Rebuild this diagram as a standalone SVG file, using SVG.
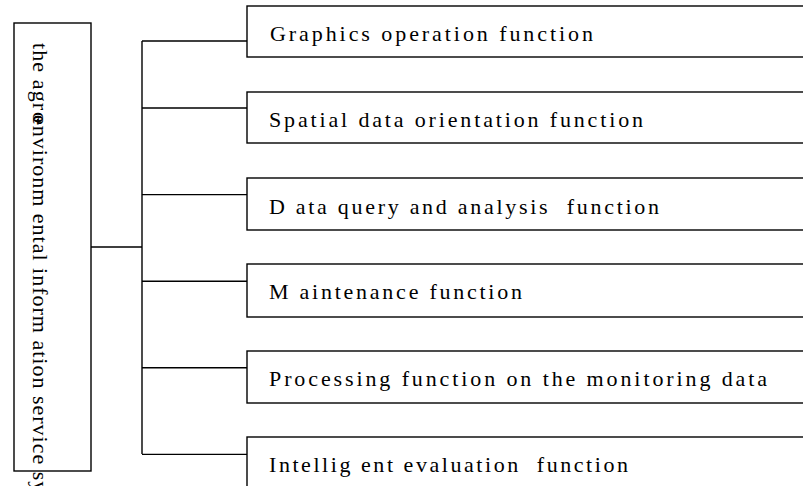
<svg xmlns="http://www.w3.org/2000/svg" width="803" height="486" viewBox="0 0 803 486">
<style>
.box{fill:#fff;stroke:#000;stroke-width:1.4}
.lbl{font-family:"Liberation Serif","Times New Roman",serif;font-size:22px;fill:#000}
.conn{fill:none;stroke:#000;stroke-width:1.4}
</style>
<rect width="803" height="486" fill="#fff"/>
<g id="root">
<rect class="box" x="14" y="23" width="77" height="448"/>
<g transform="translate(33,43) rotate(90)">
<text class="lbl" x="0" y="0" letter-spacing="1.1">the agr</text>
<text class="lbl" x="69" y="0" letter-spacing="-5">o-</text>
<text class="lbl" x="72" y="0" letter-spacing="1" xml:space="preserve">environm ental inform ation service system</text>
</g>
</g>
<g id="connectors">
<path class="conn" d="M91 247H142M142 41V454M142 41H247M142 108H247M142 194.6H247M142 281.2H247M142 367.8H247M142 454.4H247"/>
</g>
<g id="n1"><rect class="box" x="247" y="6" width="570" height="51"/><text class="lbl" x="270" y="41" textLength="323" lengthAdjust="spacing">Graphics operation function</text></g>
<g id="n2"><rect class="box" x="247" y="92" width="570" height="51"/><text class="lbl" x="269" y="127" textLength="374" lengthAdjust="spacing">Spatial data orientation function</text></g>
<g id="n3"><rect class="box" x="247" y="178" width="570" height="52"/><text class="lbl" x="269" y="214" textLength="390" lengthAdjust="spacing" xml:space="preserve">D ata query and analysis  function</text></g>
<g id="n4"><rect class="box" x="247" y="264" width="570" height="53"/><text class="lbl" x="269" y="299" textLength="253" lengthAdjust="spacing" xml:space="preserve">M aintenance function</text></g>
<g id="n5"><rect class="box" x="247" y="351" width="570" height="52"/><text class="lbl" x="269" y="386" textLength="498" lengthAdjust="spacing">Processing function on the monitoring data</text></g>
<g id="n6"><rect class="box" x="247" y="437" width="570" height="60"/><text class="lbl" x="269" y="472" textLength="359" lengthAdjust="spacing" xml:space="preserve">Intellig ent evaluation  function</text></g>
</svg>
